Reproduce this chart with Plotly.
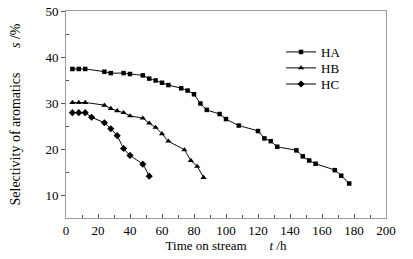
import plotly.graph_objects as go

ha_x = [4, 8, 12, 24, 28, 36, 40, 48, 52, 56, 60, 64, 72, 76, 80, 84, 88, 96, 100, 108, 120, 124, 128, 132, 144, 148, 152, 156, 168, 172, 177]
ha_y = [37.4, 37.4, 37.4, 36.8, 36.5, 36.5, 36.3, 36.0, 35.3, 34.9, 34.4, 33.9, 33.2, 32.7, 31.9, 29.9, 28.5, 27.6, 26.5, 25.1, 23.9, 22.3, 21.7, 20.5, 19.7, 18.4, 17.5, 16.8, 15.4, 14.2, 12.5]

hb_x = [4, 8, 12, 24, 28, 32, 36, 40, 48, 52, 56, 60, 64, 74, 78, 82, 86]
hb_y = [30.1, 30.1, 30.1, 29.5, 28.8, 28.3, 27.9, 27.2, 26.7, 25.6, 24.7, 23.3, 21.7, 19.8, 17.5, 16.2, 13.8]

hc_x = [4, 8, 12, 16, 24, 28, 32, 36, 40, 48, 52]
hc_y = [27.9, 27.9, 27.9, 26.9, 25.7, 24.4, 22.9, 20.1, 18.6, 16.7, 14.1]

series = [
    ("HA", ha_x, ha_y, "square", 4.5, "legend2", 0.802),
    ("HB", hb_x, hb_y, "triangle-up", 5.5, "legend3", 0.725),
    ("HC", hc_x, hc_y, "diamond", 5.5, "legend4", 0.647),
]

FONT = "Liberation Serif"

fig = go.Figure()
legends = {}
for name, xs, ys, sym, sz, lg, ly in series:
    fig.add_trace(go.Scatter(
        x=xs, y=ys, name=name, mode="lines+markers", legend=lg, showlegend=True,
        line=dict(color="black", width=1, shape="spline", smoothing=0.3),
        marker=dict(symbol=sym, size=sz, color="black"),
    ))
    legends[lg] = dict(x=0.672, y=ly, xanchor="left", yanchor="middle",
                       bgcolor="rgba(0,0,0,0)", font=dict(family=FONT, size=13),
                       itemwidth=30)

axis_common = dict(
    showgrid=False, zeroline=False, showline=True, linecolor="#9a9a9a",
    linewidth=1, mirror=True, tickfont=dict(family=FONT, size=13, color="black"),
    tickcolor="#555", tickwidth=1, automargin=False,
)

fig.update_xaxes(
    range=[0, 200], tickvals=list(range(0, 201, 20)), ticks="inside", ticklen=4,
    minor=dict(tickvals=list(range(10, 200, 20)), ticks="inside", ticklen=3, tickcolor="#555"),
    title=dict(text="Time on stream\u00a0\u00a0\u00a0\u00a0\u00a0\u00a0\u00a0<i>t</i> /h",
               font=dict(family=FONT, size=13, color="black"), standoff=2),
    **axis_common,
)
fig.update_yaxes(
    range=[5, 50], tickvals=list(range(10, 51, 10)), ticks="outside", ticklen=4,
    minor=dict(tickvals=list(range(15, 50, 10)), ticks="inside", ticklen=3, tickcolor="#555"),
    title=dict(text="Selectivity of aromatics\u00a0\u00a0\u00a0\u00a0\u00a0\u00a0\u00a0<i>s</i> /%",
               font=dict(family=FONT, size=14, color="black"), standoff=21),
    **axis_common,
)

fig.update_layout(
    width=413, height=259,
    margin=dict(l=66, r=27, t=11, b=41),
    plot_bgcolor="white", paper_bgcolor="white",
    font=dict(family=FONT, size=13, color="black"),
    showlegend=True,
    **legends,
)

fig.write_html("out.html", config={"displayModeBar": False},
               post_script="document.body.style.margin='0';document.body.style.padding='0';")
